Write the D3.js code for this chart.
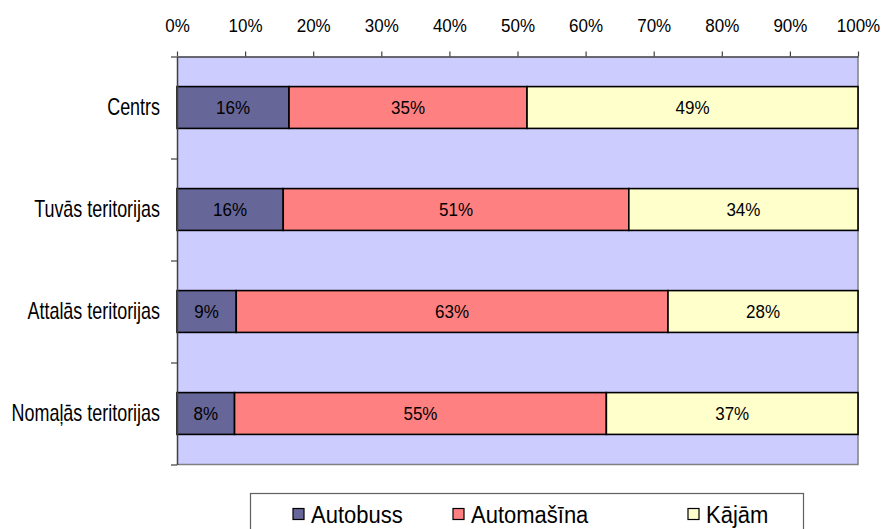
<!DOCTYPE html>
<html>
  <head>
    <meta charset="utf-8">
    <title>Pārvietošanās veids</title>
    <script src="https://d3js.org/d3.v7.min.js"></script>
    <style>
      body { margin: 0; background: #fff; }
      svg { font-family: "Liberation Sans", Arial, sans-serif; }
    </style>
  </head>
  <body>
    <svg id="svg" width="884" height="529"></svg>
    <script>
      // data
      var categories = ["Centrs", "Tuvās teritorijas", "Attalās teritorijas", "Nomaļās teritorijas"];
      var seriesNames = ["Autobuss", "Automašīna", "Kājām"];
      var autobuss = [16.45, 15.6, 8.7, 8.45];
      var automasina = [34.95, 50.75, 63.4, 54.6];
      var kajam = [48.6, 33.65, 27.9, 36.95];
      var tickValues = [0, 10, 20, 30, 40, 50, 60, 70, 80, 90, 100];
      var colors = ["#666699", "#FF8080", "#FFFFCC"];

      var rows = categories.map(function(c, i) {
        return { cat: c, "Autobuss": autobuss[i], "Automašīna": automasina[i], "Kājām": kajam[i] };
      });

      // plot area
      var plotLeft = 177, plotRight = 858, plotTop = 56.5, plotBottom = 464.5;
      var svg = d3.select("#svg");

      var x = d3.scaleLinear().domain([0, 100]).range([plotLeft, plotRight]);
      var y = d3.scaleBand().domain(categories).range([plotTop, plotBottom]).paddingInner(0.59).paddingOuter(0.295);
      var yEdge = d3.scaleLinear().domain([0, categories.length]).range([plotTop, plotBottom]);
      var color = d3.scaleOrdinal().domain(seriesNames).range(colors);

      svg.append("rect")
        .attr("x", plotLeft).attr("y", plotTop)
        .attr("width", plotRight - plotLeft).attr("height", plotBottom - plotTop)
        .attr("fill", "#CCCCFF");
      // right and bottom border
      svg.append("path")
        .attr("d", "M" + plotRight + "," + plotTop + "V" + plotBottom + "H" + plotLeft)
        .attr("fill", "none").attr("stroke", "#808080").attr("stroke-width", 1.5);

      // bars
      var stacked = d3.stack().keys(seriesNames)(rows);
      var layers = svg.append("g").selectAll("g")
          .data(stacked)
        .enter().append("g")
          .attr("fill", function(d) { return color(d.key); });
      layers.selectAll("rect")
          .data(function(d) { return d; })
        .enter().append("rect")
          .attr("x", function(d) { return x(d[0]); })
          .attr("y", function(d) { return y(d.data.cat); })
          .attr("width", function(d) { return x(d[1]) - x(d[0]); })
          .attr("height", y.bandwidth())
          .attr("stroke", "#000").attr("stroke-width", 1.6);
      layers.selectAll("text")
          .data(function(d) { return d; })
        .enter().append("text")
          .attr("transform", function(d) {
            return "translate(" + (x(d[0]) + x(d[1])) / 2 + "," + (y(d.data.cat) + y.bandwidth() / 2 + 6.8) + ") scale(1,1.1)";
          })
          .attr("text-anchor", "middle")
          .attr("fill", "#000")
          .style("font-size", "17px")
          .text(function(d) { return Math.round(d[1] - d[0]) + "%"; });

      // top axis
      var xAxis = svg.append("g")
        .attr("transform", "translate(0," + plotTop + ")")
        .call(d3.axisTop(x).tickValues(tickValues).tickSize(5).tickSizeOuter(0)
          .tickFormat(function(d) { return d + "%"; }));
      xAxis.select(".domain").attr("stroke", "#404040").attr("stroke-width", 1.5);
      xAxis.selectAll(".tick line").attr("stroke", "#404040").attr("stroke-width", 1.2);
      xAxis.selectAll(".tick text")
        .attr("y", -22.5)
        .attr("transform", "scale(1,1.1)")
        .attr("fill", "#000")
        .style("font-size", "17px")
        .style("font-family", "'Liberation Sans', Arial, sans-serif");

      // left axis with ticks between categories
      var yAxis = svg.append("g")
        .attr("transform", "translate(" + plotLeft + ",0)")
        .call(d3.axisLeft(yEdge).ticks(categories.length).tickSize(6).tickSizeOuter(0).tickFormat(""));
      yAxis.select(".domain").attr("stroke", "#404040").attr("stroke-width", 1.5);
      yAxis.selectAll(".tick line").attr("stroke", "#404040").attr("stroke-width", 1.2);

      // category labels (condensed)
      svg.append("g").selectAll("text")
          .data(categories)
        .enter().append("text")
          .attr("transform", function(d) {
            return "translate(160," + (y(d) + y.bandwidth() / 2 + 7.5) + ") scale(0.78,1)";
          })
          .attr("text-anchor", "end")
          .style("font-size", "23px")
          .text(function(d) { return d; });

      // legend
      var legend = svg.append("g");
      legend.append("rect")
        .attr("x", 250.5).attr("y", 493.5).attr("width", 553).attr("height", 50)
        .attr("fill", "#fff").attr("stroke", "#606060").attr("stroke-width", 1.2);
      var legendX = [293, 453, 688];
      var items = legend.selectAll(".item")
          .data(seriesNames)
        .enter().append("g")
          .attr("transform", function(d, i) { return "translate(" + legendX[i] + ",508.5)"; });
      items.append("rect")
        .attr("width", 11).attr("height", 11)
        .attr("fill", function(d) { return color(d); })
        .attr("stroke", "#000").attr("stroke-width", 1.2);
      items.append("text")
        .attr("transform", "translate(18,14) scale(1,1.12)")
        .style("font-size", "22px")
        .text(function(d) { return d; });
    </script>
  </body>
</html>
